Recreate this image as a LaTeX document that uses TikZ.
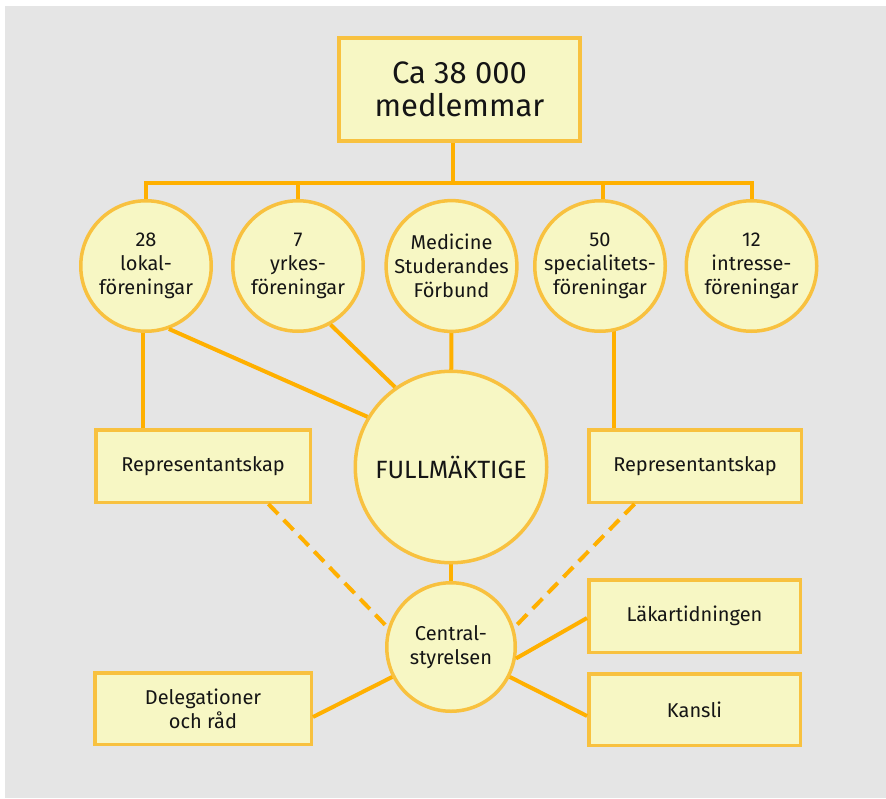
\documentclass[tikz,border=0pt]{standalone}
\usepackage{fontspec}
\setmainfont{Fira Sans}
\usetikzlibrary{calc,backgrounds}
\definecolor{bgc}{HTML}{E5E5E5}
\definecolor{fillc}{HTML}{F7F7C4}
\definecolor{edgec}{HTML}{F8C13F}
\definecolor{connc}{HTML}{FFB000}
\definecolor{txtc}{HTML}{151515}
\tikzset{
  rbox/.style={draw=edgec,fill=fillc,line width=3.5pt,inner sep=2pt,align=center,text=txtc,font=\fontsize{20}{24}\selectfont},
  rcirc/.style={circle,draw=edgec,fill=fillc,line width=3.5pt,inner sep=0pt,align=center,text=txtc,font=\fontsize{20}{24}\selectfont},
  conn/.style={draw=connc,line width=4pt},
  dconn/.style={draw=connc,line width=4pt,dash pattern=on 14pt off 8pt}
}
\begin{document}
\begin{tikzpicture}[x=1pt,y=-1pt]
\useasboundingbox (0,0) rectangle (886,798);

\node[rbox,minimum width=241pt,minimum height=103pt,font=\fontsize{31}{33}\selectfont] (top) at (459.5,89.5) {Ca 38 000\\medlemmar};

\node[rcirc,minimum size=130.5pt] (c1) at (146,266) {28\\lokal-\\föreningar};
\node[rcirc,minimum size=130.5pt] (c2) at (298,266) {7\\yrkes-\\föreningar};
\node[rcirc,minimum size=130.5pt] (c3) at (451.5,266) {Medicine\\Studerandes\\Förbund};
\node[rcirc,minimum size=130.5pt] (c4) at (600,266) {50\\specialitets-\\föreningar};
\node[rcirc,minimum size=130.5pt] (c5) at (751.5,266) {12\\intresse-\\föreningar};

\node[rcirc,minimum size=191.5pt,font=\fontsize{25}{30}\selectfont] (fm) at (451,467) {FULLMÄKTIGE};
\node[rcirc,minimum size=128.5pt] (cs) at (451,647) {Central-\\styrelsen};

\node[rbox,minimum width=214.5pt,minimum height=72.5pt] (rep1) at (203,466) {Representantskap};
\node[rbox,minimum width=212.5pt,minimum height=72.5pt] (rep2) at (695,466) {Representantskap};
\node[rbox,minimum width=211.5pt,minimum height=72.5pt] (lak) at (694.5,616) {Läkartidningen};
\node[rbox,minimum width=211.5pt,minimum height=71.5pt] (kan) at (694.5,709.5) {Kansli};
\node[rbox,minimum width=216.5pt,minimum height=71.5pt] (del) at (203,708.5) {Delegationer\\och råd};

\coordinate (bus) at (453,183);
\coordinate (r1top) at ($(rep1.north west)!0.225!(rep1.north east)$);
\coordinate (r2top) at ($(rep2.north west)!0.125!(rep2.north east)$);
\coordinate (r1bot) at ($(rep1.south west)!0.8!(rep1.south east)$);
\coordinate (r2bot) at ($(rep2.south west)!0.22!(rep2.south east)$);

\begin{scope}[on background layer]
  \fill[white] (0,0) rectangle (886,798);
  \fill[bgc] (5,6) rectangle (886,798);
  \draw[conn] (bus |- top.center) -- (bus);
  \draw[conn] (c1.center) |- (bus) -| (c5.center);
  \draw[conn] (c2.center) -- (c2.center |- bus);
  \draw[conn] (603,266) -- (603,183);
  \draw[conn] (c3.center) -- (fm.center);
  \draw[conn] (fm.center) -- (cs.center);
  \draw[conn] (r1top) -- (r1top |- c1.center);
  \draw[conn] (r2top) -- (r2top |- c4.center);
\end{scope}

\draw[conn] (c1.-70) -- (fm.149);
\draw[conn] (c2.-61.5) -- (fm.125);
\draw[dconn] (r1bot) -- (cs.163);
\draw[dconn] (r2bot) -- (cs.17);
\draw[conn] (cs.-10) -- ($(lak.west)+(0,2)$);
\draw[conn] (cs.-27) -- ($(kan.west)+(0,6.5)$);
\draw[conn] (cs.207) -- ($(del.east)+(0,8.5)$);
\end{tikzpicture}
\end{document}
